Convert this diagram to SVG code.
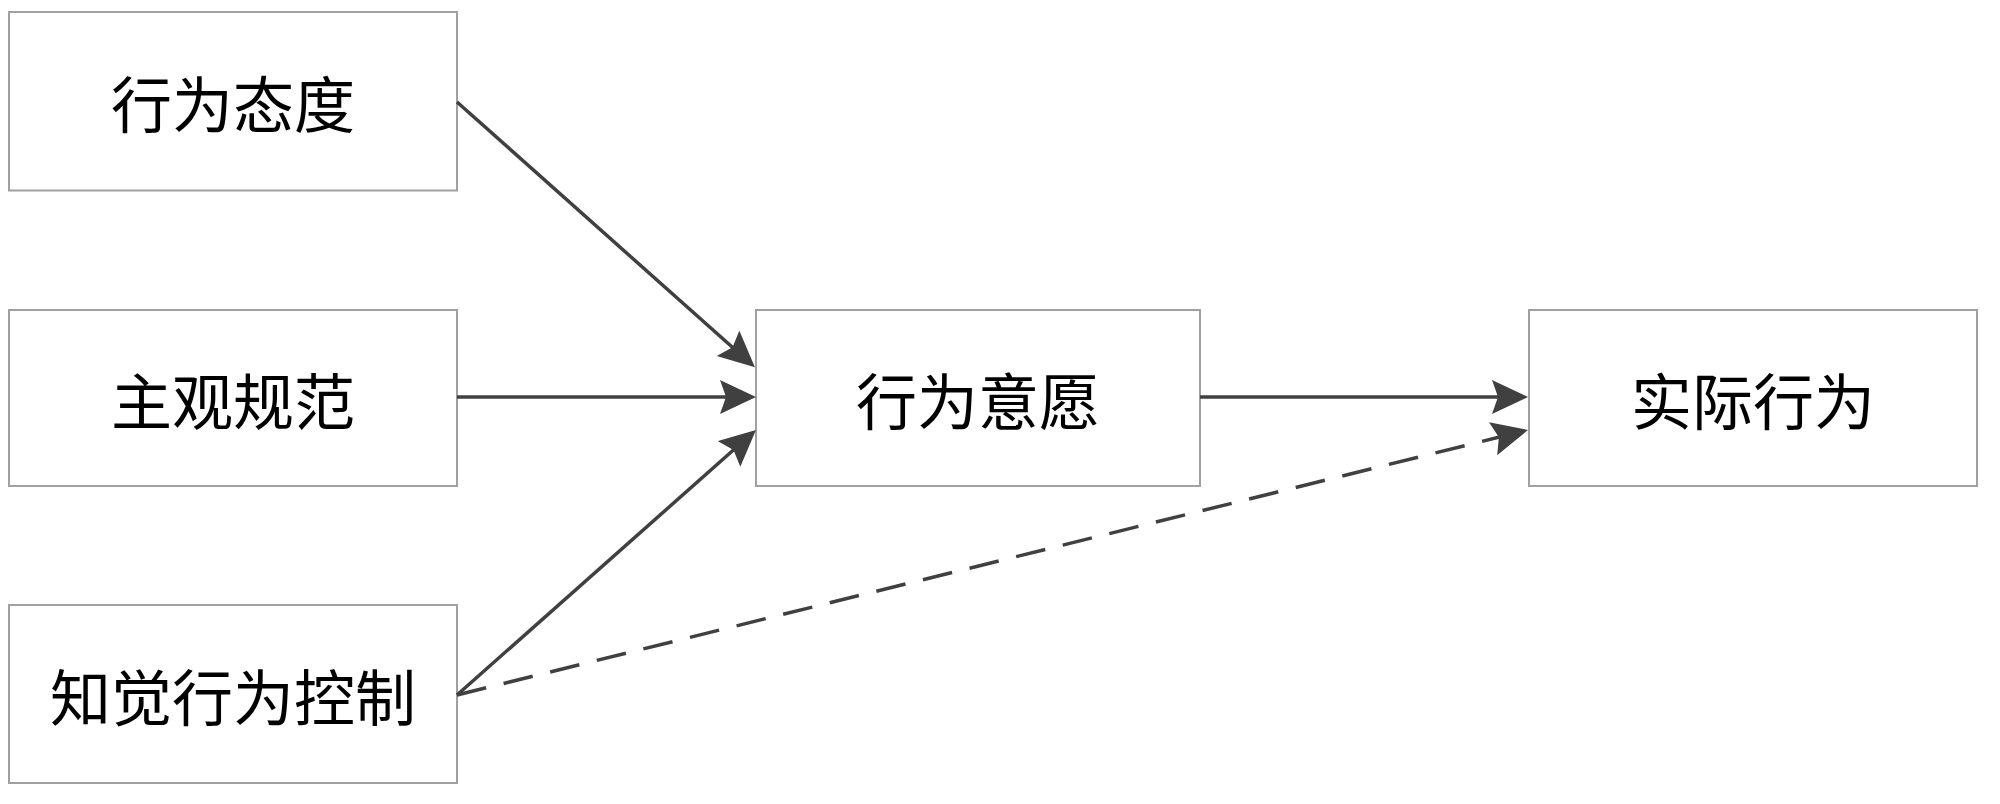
<svg xmlns="http://www.w3.org/2000/svg" width="2000" height="804" viewBox="0 0 2000 804">
<style>
.box{fill:#fff;stroke:#a0a0a0;stroke-width:2}
.lbl{font-family:"Noto Sans CJK SC","Liberation Serif",serif;font-size:61px;fill:#000;text-anchor:middle;dominant-baseline:central}
.conn{fill:none;stroke:#404040;stroke-width:3.5}
.dash{stroke-dasharray:30 18}
</style>
<defs>
<marker id="arr" markerUnits="userSpaceOnUse" markerWidth="37" markerHeight="35" refX="16" refY="17" orient="auto" viewBox="0 0 37 35">
<path d="M0,0 L36,17 L0,34 L6,17 Z" fill="#404040"/>
</marker>
</defs>
<rect width="2000" height="804" fill="#fff"/>
<g id="n1"><rect class="box" x="9" y="12" width="448" height="178.5"/><text class="lbl" x="233" y="101">行为态度</text></g>
<g id="n2"><rect class="box" x="9" y="310" width="448" height="176"/><text class="lbl" x="233" y="398">主观规范</text></g>
<g id="n3"><rect class="box" x="9" y="605" width="448" height="178"/><text class="lbl" x="233" y="694">知觉行为控制</text></g>
<g id="n4"><rect class="box" x="756" y="310" width="444" height="176"/><text class="lbl" x="978" y="398">行为意愿</text></g>
<g id="n5"><rect class="box" x="1529" y="310" width="448" height="176"/><text class="lbl" x="1753" y="398">实际行为</text></g>
<g id="connectors">
<path class="conn" d="M457,102 L740,354" marker-end="url(#arr)"/>
<path class="conn" d="M457,397 L736,397" marker-end="url(#arr)"/>
<path class="conn" d="M457,695 L741,443.3" marker-end="url(#arr)"/>
<path class="conn" d="M1200,397 L1508,397" marker-end="url(#arr)"/>
<path class="conn dash" d="M457,695 L1508.6,434.8" marker-end="url(#arr)"/>
</g>
</svg>
